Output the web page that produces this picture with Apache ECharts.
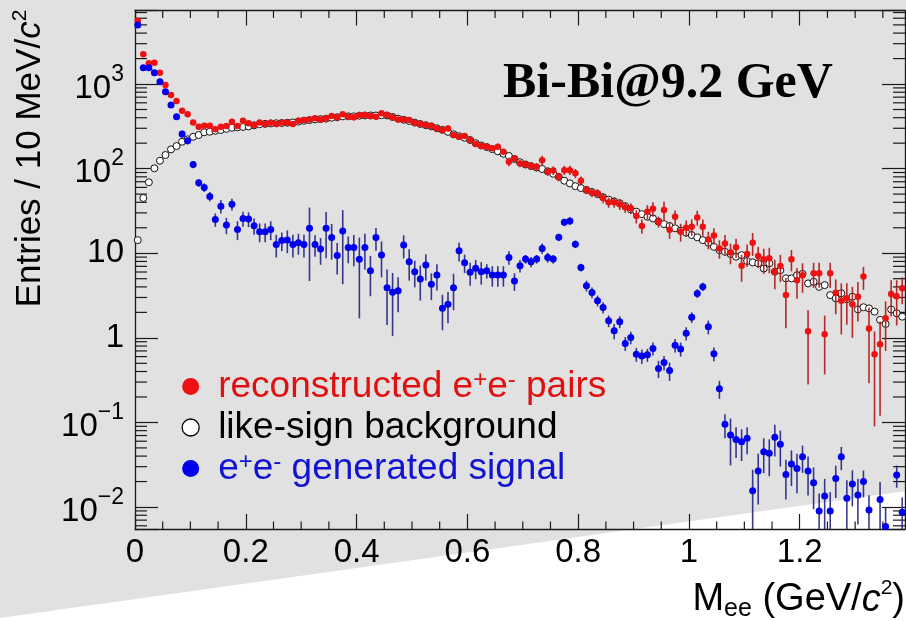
<!DOCTYPE html>
<html>
<head>
<meta charset="utf-8">
<script src="https://cdn.jsdelivr.net/npm/echarts@6/dist/echarts.min.js"></script>
<style>
  html, body { margin: 0; padding: 0; background: #fff; }
  #chart { width: 906px; height: 621px; }
</style>
</head>
<body>
<div id="chart"></div>
<script>
// Invariant-mass spectrum, 10 MeV/c^2 bins from 0 to 1.39 GeV/c^2
const BIN_WIDTH = 0.01;
const N_BINS = 139;
const binCenters = Array.from({ length: N_BINS }, (_, i) => +(BIN_WIDTH * (i + 0.5)).toFixed(3));

// reconstructed unlike-sign e+e- pairs
const recoPairs = [
  5600, 2245, 1757, 1786, 1360, 973, 741, 629, 483, 438,
  352, 313, 321, 321, 292, 313, 319, 358, 319, 368,
  343, 328, 352, 337, 349, 337, 352, 349, 337, 369,
  375, 382, 393, 382, 393, 419, 404, 438, 411, 404,
  430, 430, 419, 411, 450, 431, 404, 382, 382, 375,
  349, 336, 327, 319, 299, 286, 299, 250, 238, 243,
  218, 195, 185, 182, 174, 182, 158, 121, 132, 115,
  112, 108, 105, 126, 92, 95, 80, 96, 96, 88,
  72, 56, 52, 51, 45, 40, 40, 38, 35, 34,
  27.5, 21, 31, 33.5, 23.6, 32.5, 19, 27, 18, 20,
  20.6, 26.5, 20.6, 14.5, 16.2, 11.4, 13, 10.2, 11.8, 7.1,
  9.8, 13.3, 9.3, 8.5, 8.7, 6.05, 7.06, 3.2, 8.5, 4.8,
  5.5, 1.2, 5.8, 5.8, 1.1, 5.8, 3.4, 2.75, 2.93, 2.5,
  3.06, 5.3, 1.29, 0.64, 0.84, 1.7, 3.3, 3.1, 3.85
];
const recoErr = [
  110, 50, 42, 42, 37, 31, 27, 25, 22, 21,
  12, 11, 11, 11, 10, 10, 10, 11, 10, 11,
  10, 10, 10, 10, 10, 10, 10, 10, 10, 10,
  10, 10, 10, 10, 10, 11, 11, 11, 11, 11,
  11, 11, 11, 11, 11, 11, 11, 10, 10, 10,
  10, 10, 10, 10, 10, 10, 25, 15, 14, 15,
  14, 13, 13, 13, 13, 15, 13, 14, 12, 11,
  11, 11, 11, 16, 10, 11, 9, 12, 12, 11,
  9, 6, 6, 6, 6, 5.5, 5.5, 5.5, 5, 5,
  5, 4, 6, 6.5, 3.5, 8, 4.2, 5, 4.3, 4.3,
  4.5, 5.3, 4.5, 3.4, 3.5, 2.8, 3.4, 2.8, 3.0, 2.5,
  2.9, 4.0, 2.6, 2.8, 2.9, 2.3, 2.5, 1.9, 2.4, 1.9,
  2.1, 0.92, 1.9, 1.9, 0.73, 1.9, 1.5, 1.65, 1.5, 1.5,
  1.5, 1.6, 1.0, 0.55, 0.72, 1.0, 1.5, 1.7, 1.35
];

// like-sign combinatorial background
const likeSign = [
  14.3, 45, 69, 101, 124, 145, 169, 185, 208, 222,
  238, 250, 269, 273, 280, 286, 295, 304, 308, 311,
  316, 325, 335, 338, 342, 344, 346, 349, 352, 360,
  368, 375, 382, 385, 390, 400, 405, 415, 415, 415,
  422, 425, 425, 425, 428, 425, 408, 390, 378, 366,
  350, 337, 326, 316, 300, 287, 272, 255, 242, 232,
  218, 200, 188, 180, 170, 160, 150, 141, 130, 119,
  112, 107, 103, 99, 93, 87, 80, 72, 67, 62,
  59, 56, 53, 50, 46, 43, 41, 39, 36, 33,
  31, 29, 27, 25.8, 23.6, 22.1, 21.0, 19.7, 18.5, 17.5,
  16.4, 15.4, 14.3, 13.3, 11.9, 10.9, 10.4, 9.8, 9.1, 9.5,
  8.1, 7.8, 7.6, 6.6, 7.6, 6.05, 6.3, 5.05, 5.05, 5.5,
  5.7, 4.4, 4.6, 4.0, 4.2, 3.2, 2.93, 3.36, 2.85, 3.06,
  2.17, 2.3, 2.23, 2.04, 1.63, 1.46, 2.17, 1.95, 1.78
];

// generated e+e- signal (null = empty bin)
const signal = [
  4980, 1560, 1560, 1360, 1066, 811, 565, 411, 256, 214,
  112, 68, 60, 47, 25, 36, 21.5, 38, 19.1, 25.8,
  25.4, 21.1, 18, 18, 19.1, 12.7, 14.1, 14.3, 12.7, 13.3,
  12.7, 19.7, 12.7, 11.2, 19.7, 15.3, 9.4, 18.3, 11.7, 11.7,
  8.5, 11.7, 6.2, 15.3, 9.5, 3.92, 3.45, 3.61, 12.5, 7.95,
  6.05, 4.96, 7.26, 4.29, 5.52, 2.23, 2.49, 3.92, 10.7, 7.73,
  5.94, 6.63, 6.05, 6.21, 5.52, 5.52, 5.52, 8.93, 4.69, 7.11,
  8.53, 7.94, 8.53, 11.4, 8.93, 8.53, 15.4, 23.2, 24.0, 12.8,
  6.8, 4.13, 3.44, 2.75, 2.29, 1.59, 1.21, 1.55, 0.86, 1.01,
  0.64, 0.61, 0.63, 0.75, 0.435, 0.51, 0.41, 0.82, 0.74, 1.13,
  1.75, 3.35, 4.02, 1.35, 0.65, 0.25, 0.095, 0.071, 0.063, 0.059,
  0.065, 0.0156, 0.0267, 0.0451, 0.0431, 0.0667, 0.0551, 0.0243, 0.0322, 0.0286,
  0.0393, 0.0267, 0.0194, 0.009, 0.0135, 0.009, 0.0218, 0.0393, 0.0127, 0.0187,
  0.0139, 0.0200, 0.0092, null, 0.0123, 0.0059, null, 0.0239, 0.0087
];
const signalErr = [
  90, 40, 40, 37, 33, 28, 24, 20, 25, 21,
  11, 7, 7, 6, 4.5, 6.5, 4.7, 6, 4.8, 5.2,
  5.1, 4.6, 4.5, 4.5, 4.8, 3.8, 3.5, 4.3, 3.8, 3.7,
  3.8, 15, 3.6, 3.9, 11, 6.9, 3.8, 14, 4.1, 4.7,
  6.8, 5.3, 3.1, 4.6, 4.3, 2.5, 2.4, 1.6, 3.8, 3.2,
  2.1, 2.2, 2.5, 1.5, 1.9, 1.0, 1.0, 1.8, 2.7, 1.9,
  1.8, 1.7, 1.8, 1.2, 1.5, 1.5, 1.5, 1.6, 1.1, 1.2,
  1.0, 1.1, 1.0, 1.6, 1.2, 1.0, 1.5, 2.3, 2.4, 1.3,
  0.7, 0.6, 0.5, 0.4, 0.35, 0.25, 0.25, 0.25, 0.16, 0.17,
  0.12, 0.12, 0.11, 0.13, 0.1, 0.1, 0.1, 0.15, 0.14, 0.2,
  0.25, 0.4, 0.45, 0.25, 0.12, 0.06, 0.03, 0.04, 0.025, 0.024,
  0.023, 0.012, 0.016, 0.02, 0.02, 0.027, 0.025, 0.012, 0.0145, 0.014,
  0.014, 0.013, 0.01, 0.0055, 0.008, 0.006, 0.009, 0.012, 0.008, 0.0085,
  0.0077, 0.007, 0.0046, null, 0.0074, 0.004, null, 0.007, 0.0043
];

// axis ranges and tick labels
const X_MIN = 0, X_MAX = 1.39, X_STEP = 0.2, X_MINOR_STEP = 0.05;
const Y_MIN = 0.0055, Y_MAX = 7400;
const xTickLabels = ['0', '0.2', '0.4', '0.6', '0.8', '1', '1.2'];
const yDecades = [0.01, 0.1, 1, 10, 100, 1000];
const yDecadeLabels = ['{z| }{b|10}{p|\u22122}', '{z| }{b|10}{p|\u22121}', '{b|1}', '{b|10}', '{z| }{b|10}{p|2}', '{z| }{b|10}{p|3}'];

const NAME_RECO = 'reconstructed e+e- pairs';
const NAME_LS = 'like-sign background';
const NAME_SIG = 'e+e- generated signal';
const legendText = {
  [NAME_RECO]: '{z| }{n|reconstructed e}{s|+}{n|e}{s|-}{n| pairs}',
  [NAME_LS]: '{z| }{n|like-sign background}',
  [NAME_SIG]: '{z| }{n|e}{s|+}{n|e}{s|-}{n| generated signal}'
};

const SANS = 'Liberation Sans, Arial, Helvetica, sans-serif';
const SERIF = 'Liberation Serif, Times New Roman, serif';
const BG_GRAY = '#e1e1e1';
const AXIS_COLOR = '#1a1a1a';
const RED = '#ee1111', RED_BAR = 'rgba(175,20,20,0.9)', RED_TEXT = '#e01010';
const BLUE = '#0000ee', BLUE_BAR = 'rgba(35,35,130,0.9)', BLUE_TEXT = '#1212d2';

function points(values) {
  const out = [];
  values.forEach((v, i) => { if (v != null) out.push([binCenters[i], v]); });
  return out;
}

function errorBars(name, values, errors, color, z) {
  const data = [];
  values.forEach((v, i) => {
    if (v != null && errors[i] != null) data.push([binCenters[i], v, errors[i]]);
  });
  return {
    name, type: 'custom', z, silent: true,
    encode: { x: 0, y: 1 },
    data,
    renderItem(params, api) {
      const x = api.value(0), v = api.value(1), e = api.value(2);
      const lo = Math.max(v - e, Y_MIN), hi = Math.min(v + e, Y_MAX);
      const p1 = api.coord([x, lo]), p2 = api.coord([x, hi]);
      return {
        type: 'line',
        shape: { x1: p1[0], y1: p1[1], x2: p2[0], y2: p2[1] },
        style: { stroke: color, lineWidth: 1.6 }
      };
    }
  };
}

// minor tick positions: 2..9 x 10^k on the log axis, every 0.05 on the mass axis
const yMinorTicks = [];
for (let k = -3; k <= 3; k++) {
  for (let m = 2; m <= 9; m++) {
    const v = m * Math.pow(10, k);
    if (v > Y_MIN && v < Y_MAX) yMinorTicks.push(v);
  }
}
const xMinorTicks = [];
for (let j = 1; j * X_MINOR_STEP < X_MAX; j++) {
  if (j % 4 !== 0) xMinorTicks.push(+(j * X_MINOR_STEP).toFixed(2));
}

const tickStyle = { stroke: AXIS_COLOR, lineWidth: 1.2 };

const chart = echarts.init(document.getElementById('chart'), null, { renderer: 'canvas' });

const axisLineCommon = { show: true, onZero: false, lineStyle: { color: AXIS_COLOR, width: 1.3 } };

chart.setOption({
  animation: false,
  backgroundColor: '#ffffff',
  textStyle: { fontFamily: SANS },
  grid: { left: 135, right: 1, top: 10.5, bottom: 92, show: false, outerBoundsMode: 'none' },
  title: {
    text: 'Bi-Bi@9.2 GeV',
    left: 503, top: 59, padding: 0,
    textStyle: { fontFamily: SERIF, fontWeight: 'bold', fontSize: 50, lineHeight: 50, color: '#000' }
  },
  legend: {
    orient: 'vertical', left: 181.5, top: 368, padding: 0,
    itemWidth: 17, itemHeight: 17, itemGap: 4,
    selectedMode: false, icon: 'circle',
    data: [
      { name: NAME_RECO, itemStyle: { color: RED, borderWidth: 0 }, textStyle: { color: RED_TEXT } },
      { name: NAME_LS, itemStyle: { color: '#ffffff', borderColor: '#000', borderWidth: 1.3 }, textStyle: { color: '#000' } },
      { name: NAME_SIG, itemStyle: { color: BLUE, borderWidth: 0 }, textStyle: { color: BLUE_TEXT } }
    ],
    formatter: name => legendText[name],
    textStyle: {
      fontFamily: SANS, fontSize: 37,
      rich: {
        z: { fontSize: 1, lineHeight: 37, width: 14 },
        n: { fontFamily: SANS, fontSize: 37, lineHeight: 35, verticalAlign: 'top' },
        s: { fontFamily: SANS, fontSize: 24, lineHeight: 31, verticalAlign: 'top' }
      }
    }
  },
  xAxis: [
    {
      type: 'value', min: X_MIN, max: X_MAX, interval: X_STEP, position: 'bottom',
      axisLine: axisLineCommon,
      axisTick: { inside: true, length: 15, lineStyle: { color: AXIS_COLOR, width: 1.2 } },
      splitLine: { show: false },
      axisLabel: {
        margin: 7, color: '#000', fontFamily: SANS, fontSize: 33, lineHeight: 33,
        formatter: v => {
          const k = Math.round(v / X_STEP);
          return Math.abs(v / X_STEP - k) < 1e-6 && xTickLabels[k] != null ? xTickLabels[k] : '';
        }
      }
    },
    {
      type: 'value', min: X_MIN, max: X_MAX, interval: X_STEP, position: 'top',
      axisLine: axisLineCommon,
      axisTick: { inside: true, length: 15, lineStyle: { color: AXIS_COLOR, width: 1.2 } },
      splitLine: { show: false },
      axisLabel: { show: false }
    }
  ],
  yAxis: [
    {
      type: 'log', logBase: 10, min: Y_MIN, max: Y_MAX, position: 'left',
      axisLine: axisLineCommon,
      axisTick: { inside: true, length: 23, lineStyle: { color: AXIS_COLOR, width: 1.2 } },
      splitLine: { show: false },
      minorTick: { show: false },
      axisLabel: {
        margin: 11, color: '#000', fontFamily: SANS,
        formatter: v => {
          const idx = yDecades.findIndex(d => Math.abs(Math.log10(v) - Math.log10(d)) < 1e-6);
          return idx >= 0 ? yDecadeLabels[idx] : '';
        },
        rich: {
          z: { fontSize: 1, lineHeight: 42 },
          b: { fontFamily: SANS, fontSize: 33, lineHeight: 33, verticalAlign: 'bottom' },
          p: { fontFamily: SANS, fontSize: 23, lineHeight: 36, verticalAlign: 'top' }
        }
      }
    },
    {
      type: 'log', logBase: 10, min: Y_MIN, max: Y_MAX, position: 'right',
      axisLine: axisLineCommon,
      axisTick: { inside: true, length: 23, lineStyle: { color: AXIS_COLOR, width: 1.2 } },
      splitLine: { show: false },
      minorTick: { show: false },
      axisLabel: { show: false }
    }
  ],
  graphic: [
    {
      type: 'polygon', z: -10, silent: true,
      shape: { points: [[0, 0], [906, 0], [906, 491], [0, 618]] },
      style: { fill: BG_GRAY }
    },
    {
      type: 'text', z: 10, silent: true,
      x: 30, y: 158.5, rotation: Math.PI / 2,
      style: {
        text: '{n|Entries / 10 MeV/}{i|c}{s|2}',
        align: 'center', verticalAlign: 'middle', fill: '#000',
        fontFamily: SANS, fontSize: 35,
        rich: {
          n: { fontFamily: SANS, fontSize: 35, lineHeight: 40 },
          i: { fontFamily: SANS, fontSize: 35, lineHeight: 40, fontStyle: 'italic' },
          s: { fontFamily: SANS, fontSize: 21, lineHeight: 16, verticalAlign: 'top' }
        }
      }
    },
    {
      type: 'text', z: 10, silent: true,
      x: 905, y: 600,
      style: {
        text: '{n|M}{b|ee}{n| (GeV/}{i|c}{s|2}{n|)}',
        align: 'right', verticalAlign: 'middle', fill: '#000',
        fontFamily: SANS, fontSize: 38,
        rich: {
          n: { fontFamily: SANS, fontSize: 38, lineHeight: 44 },
          i: { fontFamily: SANS, fontSize: 38, lineHeight: 44, fontStyle: 'italic' },
          b: { fontFamily: SANS, fontSize: 25, lineHeight: 20, verticalAlign: 'bottom' },
          s: { fontFamily: SANS, fontSize: 21, lineHeight: 22, verticalAlign: 'top' }
        }
      }
    }
  ],
  series: [
    {
      name: 'yMinorTicks', type: 'custom', z: 1, silent: true,
      encode: { x: 0, y: 1 },
      data: yMinorTicks.map(v => [X_MIN, v]),
      renderItem(params, api) {
        const pl = api.coord([X_MIN, api.value(1)]);
        const pr = api.coord([X_MAX, api.value(1)]);
        return {
          type: 'group',
          children: [
            { type: 'line', shape: { x1: pl[0], y1: pl[1], x2: pl[0] + 12, y2: pl[1] }, style: tickStyle },
            { type: 'line', shape: { x1: pr[0], y1: pr[1], x2: pr[0] - 12, y2: pr[1] }, style: tickStyle }
          ]
        };
      }
    },
    {
      name: 'xMinorTicks', type: 'custom', z: 1, silent: true,
      encode: { x: 0, y: 1 },
      data: xMinorTicks.map(x => [x, Y_MIN]),
      renderItem(params, api) {
        const pb = api.coord([api.value(0), Y_MIN]);
        const pt = api.coord([api.value(0), Y_MAX]);
        return {
          type: 'group',
          children: [
            { type: 'line', shape: { x1: pb[0], y1: pb[1], x2: pb[0], y2: pb[1] - 7.5 }, style: tickStyle },
            { type: 'line', shape: { x1: pt[0], y1: pt[1], x2: pt[0], y2: pt[1] + 7.5 }, style: tickStyle }
          ]
        };
      }
    },
    {
      name: NAME_LS, type: 'scatter', z: 3, silent: true,
      symbol: 'circle', symbolSize: 7,
      itemStyle: { color: '#ffffff', borderColor: '#111', borderWidth: 1, opacity: 1 },
      data: points(likeSign)
    },
    errorBars('recoErrors', recoPairs, recoErr, RED_BAR, 4),
    {
      name: NAME_RECO, type: 'scatter', z: 5, silent: true,
      symbol: 'circle', symbolSize: 6.5,
      itemStyle: { color: RED, opacity: 1 },
      data: points(recoPairs)
    },
    errorBars('signalErrors', signal, signalErr, BLUE_BAR, 6),
    {
      name: NAME_SIG, type: 'scatter', z: 7, silent: true,
      symbol: 'circle', symbolSize: 7,
      itemStyle: { color: BLUE, opacity: 1 },
      data: points(signal)
    }
  ]
});
</script>
</body>
</html>
